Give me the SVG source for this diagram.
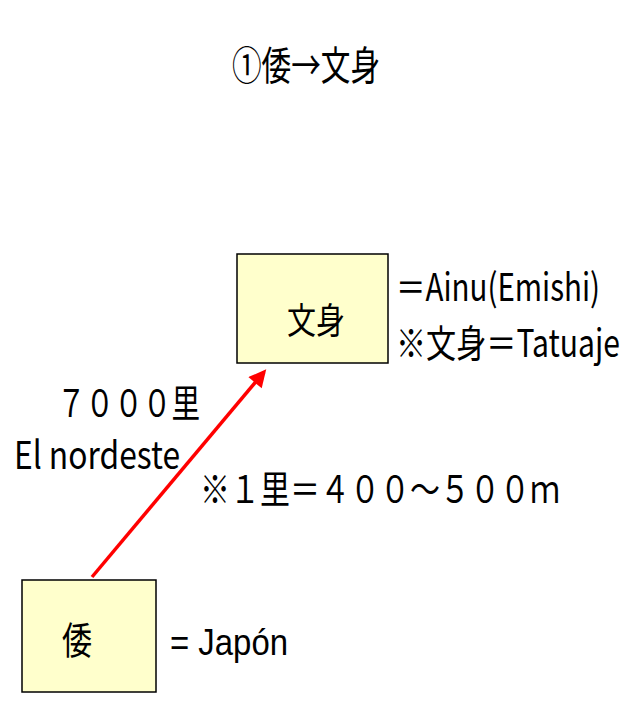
<svg xmlns="http://www.w3.org/2000/svg" width="640" height="721" viewBox="0 0 640 721">
<style>
.t{font-family:"Noto Sans CJK JP","Liberation Sans",sans-serif;fill:#000}
.a{font-family:"Liberation Sans",Arial,sans-serif;fill:#000}
.box{fill:#ffffcc;stroke:#000;stroke-width:1.5}
</style>
<defs>
<marker id="ah" viewBox="0 0 10 10" refX="8" refY="5" markerWidth="6" markerHeight="5" orient="auto" markerUnits="strokeWidth">
<path d="M0,0 L10,5 L0,10 z" fill="#ff0000"/>
</marker>
</defs>
<rect width="640" height="721" fill="#fff"/>
<text class="t" x="232" y="80" font-size="40" textLength="148" lengthAdjust="spacingAndGlyphs">①倭→文身</text>
<g id="connectors">
<line x1="92" y1="577" x2="264" y2="372" stroke="#ff0000" stroke-width="3.5" marker-end="url(#ah)"/>
</g>
<g id="node-bunshin">
<rect class="box" x="237" y="254" width="151" height="109"/>
<text class="t" x="316" y="334" font-size="36" text-anchor="middle" textLength="58" lengthAdjust="spacingAndGlyphs">文身</text>
</g>
<g id="node-wa">
<rect class="box" x="22" y="580" width="134" height="112"/>
<text class="t" x="77" y="654" font-size="38" text-anchor="middle" textLength="30" lengthAdjust="spacingAndGlyphs">倭</text>
</g>
<text class="t" x="396" y="301" font-size="38" textLength="204" lengthAdjust="spacingAndGlyphs">＝Ainu(Emishi)</text>
<text class="t" x="396" y="357" font-size="38" textLength="224" lengthAdjust="spacingAndGlyphs">※文身＝Tatuaje</text>
<text class="t" x="57" y="417" font-size="38" textLength="143" lengthAdjust="spacingAndGlyphs">７０００里</text>
<text class="t" x="14" y="469" font-size="38" textLength="166" lengthAdjust="spacingAndGlyphs">El nordeste</text>
<text class="t" x="200" y="503" font-size="38" textLength="360" lengthAdjust="spacingAndGlyphs">※１里＝４００～５００ｍ</text>
<text class="a" x="170" y="655" font-size="36" textLength="118" lengthAdjust="spacingAndGlyphs">=  Japón</text>
</svg>
